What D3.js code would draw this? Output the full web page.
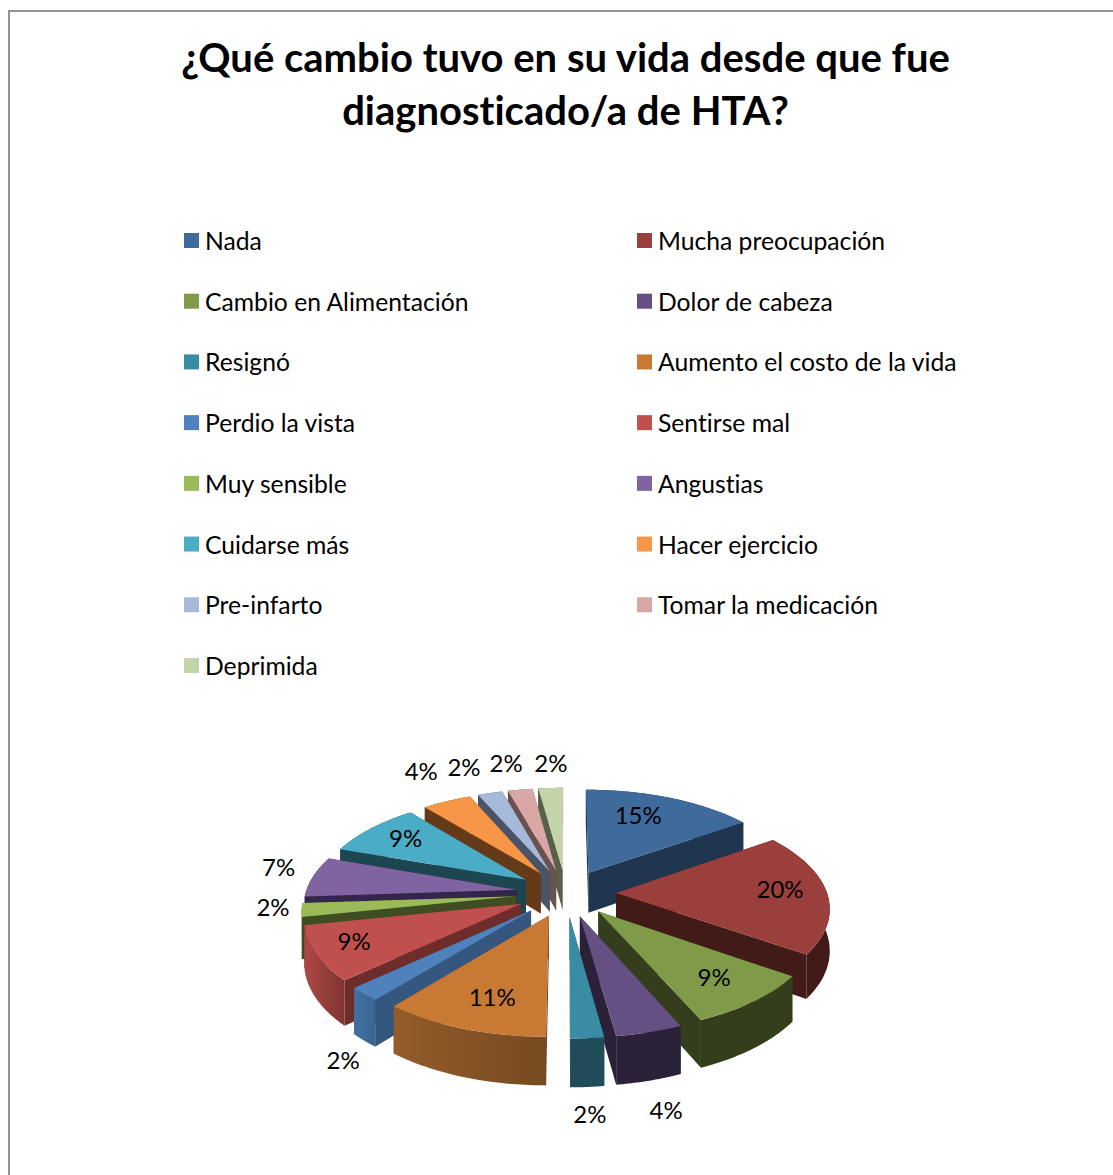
<!DOCTYPE html>
<html lang="es">
<head>
<meta charset="utf-8">
<script src="https://cdn.jsdelivr.net/npm/d3@7"></script>
<style>
  html, body { margin: 0; padding: 0; background: #fff; }
  svg { display: block; }
  text { font-family: Lato, "Open Sans", sans-serif; fill: #000; font-variant-ligatures: none; }
</style>
</head>
<body>
<svg id="chart" width="1113" height="1175"></svg>
<script>
// Survey answers and how many of the 46 respondents gave each one.
const categories = ["Nada", "Mucha preocupación", "Cambio en Alimentación", "Dolor de cabeza",
  "Resignó", "Aumento el costo de la vida", "Perdio la vista", "Sentirse mal", "Muy sensible",
  "Angustias", "Cuidarse más", "Hacer ejercicio", "Pre-infarto", "Tomar la medicación", "Deprimida"];
const responses = [7, 9, 4, 2, 1, 5, 1, 4, 1, 3, 4, 2, 1, 1, 1];
const titleLines = ["¿Qué cambio tuvo en su vida desde que fue", "diagnosticado/a de HTA?"];

// Face colours of each wedge: top, flat cut sides, rim (left and right end of its gradient).
const topColors = ["#3E6A9C", "#9A3F3C", "#7F9A48", "#664F82", "#3A8CA5", "#C87A35", "#4F81BD",
  "#C0504D", "#9BBB59", "#8064A2", "#4BACC6", "#F79646", "#A7B9D8", "#D9A7A6", "#C3D4A9"];
const sideColors = ["#1F3550", "#421A18", "#343E1C", "#2B2138", "#204B58", "#6B4219", "#34567F",
  "#6E2C2A", "#3F4D22", "#33264A", "#1E4650", "#653A18", "#4A5468", "#6A5050", "#566148"];
const rimFrom = ["#1F3550", "#421A18", "#343E1C", "#2B2138", "#204B58", "#935C2B", "#41709F",
  "#AE4844", "#3F4D22", "#33264A", "#1E4650", "#653A18", "#4A5468", "#6A5050", "#566148"];
const rimTo = ["#1F3550", "#421A18", "#343E1C", "#2B2138", "#204B58", "#774A20", "#3A6490",
  "#7F3431", "#3F4D22", "#33264A", "#1E4650", "#653A18", "#4A5468", "#6A5050", "#566148"];

// Where each percentage sits: distance from the wedge tip as a fraction of the radius,
// and rotation in degrees away from the wedge's middle.
const labelReach = [0.711, 0.782, 0.759, 1.517, 1.504, 0.747, 1.409, 0.816, 1.133, 1.194, 0.773, 1.428, 1.383, 1.372, 1.339];
const labelTurn = [-4.9, -2.2, -0.3, 4.05, 1.2, -1.8, -13.1, 1.3, 1.8, 3, 0.8, 2.3, -1.6, -0.6, 0.9];

// Pie geometry in world units, and the perspective used to flatten it.
const radius = 211, explode = 50, depth = 41;
const centerX = 566, centerY = 893, tilt = 0.468, perspective = 0.13;

const svg = d3.select("#chart");

// Frame around the chart, open towards the page edges.
svg.append("path")
  .attr("d", "M9,1175V11H1113")
  .attr("fill", "none").attr("stroke", "#939393").attr("stroke-width", 2);

// Title
svg.append("g").selectAll("text").data(titleLines).join("text")
  .attr("x", 565.5)
  .attr("y", (d, i) => 72 + i * 53)
  .attr("text-anchor", "middle")
  .attr("font-size", 40)
  .attr("font-weight", 700)
  .text(d => d);

// Legend: two columns, filled row by row.
const rowScale = d3.scalePoint().domain(d3.range(8)).range([241, 666]);
const colScale = d3.scalePoint().domain([0, 1]).range([184, 637]);
const legend = svg.append("g").selectAll("g").data(categories).join("g")
  .attr("transform", (d, i) => `translate(${colScale(i % 2)},${rowScale(Math.floor(i / 2))})`);
legend.append("rect")
  .attr("y", -8).attr("width", 15).attr("height", 15)
  .attr("fill", (d, i) => topColors[i]);
legend.append("text")
  .attr("x", 21).attr("y", 9)
  .attr("font-size", 24.7)
  .text(d => d);

// World point on the pie plane (x right, y away from viewer, z down) to screen position.
function project(x, y, z = 0) {
  const s = 1 / (1 + perspective * y / radius);
  return [centerX + x * s, centerY - tilt * y * s + z * s];
}

const total = d3.sum(responses);
const percent = d3.format(".0%");
const arcs = d3.pie().sort(null).value(d => d).startAngle(0).endAngle(2 * Math.PI)(responses);
const wedges = arcs.map((a, i) => {
  const mid = (a.startAngle + a.endAngle) / 2;
  return { i, a, mid, tipX: explode * Math.sin(mid), tipY: explode * Math.cos(mid) };
});

const polar = (w, ang, r) => [w.tipX + r * Math.sin(ang), w.tipY + r * Math.cos(ang)];
const line = d3.line();

// Far wedges first so nearer ones paint over them.
const defs = svg.append("defs");
const pieGroup = svg.append("g");
wedges.slice().sort((p, q) => q.tipY - p.tipY).forEach(w => {
  const g = pieGroup.append("g");
  const steps = d3.range(0, 41).map(t => w.a.startAngle + (w.a.endAngle - w.a.startAngle) * t / 40);
  const rimWorld = steps.map(ang => polar(w, ang, radius));
  const rimTop = rimWorld.map(p => project(p[0], p[1]));
  const rimBottom = rimWorld.map(p => project(p[0], p[1], depth));
  const tipTop = project(w.tipX, w.tipY);
  const tipBottom = project(w.tipX, w.tipY, depth);

  const gradId = "rim" + w.i;
  const xs = rimTop.map(p => p[0]);
  const grad = defs.append("linearGradient").attr("id", gradId)
    .attr("gradientUnits", "userSpaceOnUse")
    .attr("x1", d3.min(xs)).attr("x2", d3.max(xs)).attr("y1", 0).attr("y2", 0);
  grad.append("stop").attr("offset", 0).attr("stop-color", rimFrom[w.i]);
  grad.append("stop").attr("offset", 1).attr("stop-color", rimTo[w.i]);

  const faces = [
    { pts: [tipTop, rimTop[0], rimBottom[0], tipBottom], fill: sideColors[w.i], y: polar(w, w.a.startAngle, radius / 2)[1] },
    { pts: [tipTop, rimTop[40], rimBottom[40], tipBottom], fill: sideColors[w.i], y: polar(w, w.a.endAngle, radius / 2)[1] },
    { pts: rimTop.concat(rimBottom.slice().reverse()), fill: `url(#${gradId})`, y: d3.mean(rimWorld, p => p[1]) }
  ];
  faces.sort((p, q) => q.y - p.y).forEach(f => {
    g.append("path").attr("d", line(f.pts) + "Z").attr("fill", f.fill);
  });
  g.append("path")
    .attr("d", line([tipTop, ...rimTop]) + "Z")
    .attr("fill", topColors[w.i]);
});

// Percentage labels, nudged up to sit on the optical centre of the digits.
svg.append("g").selectAll("text").data(wedges).join("text")
  .each(function (w) {
    const p = polar(w, w.mid + labelTurn[w.i] * Math.PI / 180, labelReach[w.i] * radius);
    const [x, y] = project(p[0], p[1]);
    d3.select(this).attr("x", x).attr("y", y - 1.5);
  })
  .attr("text-anchor", "middle")
  .attr("dominant-baseline", "central")
  .attr("font-size", 24)
  .text(w => percent(responses[w.i] / total));
</script>
</body>
</html>
